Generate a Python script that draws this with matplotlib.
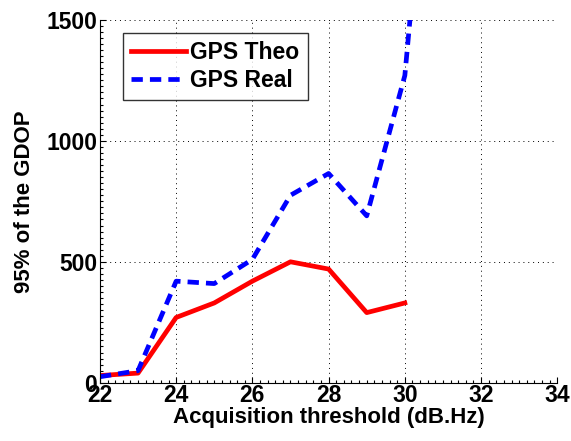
import matplotlib
matplotlib.use("Agg")
import matplotlib.pyplot as plt
from matplotlib.ticker import MultipleLocator

threshold = [22, 23, 24, 25, 26, 27, 28, 29, 30]
gps_theo = [30, 40, 270, 330, 420, 500, 470, 290, 330]
threshold_real = [22, 23, 24, 25, 26, 27, 28, 29, 30, 31]
gps_real = [25, 50, 420, 410, 510, 775, 865, 690, 1270, 2980]

plt.rcParams['font.family'] = ['Liberation Sans', 'DejaVu Sans']
plt.rcParams['font.weight'] = 'bold'

fig = plt.figure(figsize=(5.71, 4.41), dpi=100)
ax = fig.add_axes([0.175, 0.132, 0.801, 0.823])

ax.plot(threshold, gps_theo, color='#ff0000', lw=3.4, label='GPS Theo')
ax.plot(threshold_real, gps_real, color='#0000ff', lw=3.4, ls=(0, (2.4, 1.5)),
        label='GPS Real')

ax.set_xlim(22, 34)
ax.set_ylim(0, 1500)
ax.xaxis.set_major_locator(MultipleLocator(2))
ax.yaxis.set_major_locator(MultipleLocator(500))
ax.xaxis.set_minor_locator(MultipleLocator(0.2))
ax.yaxis.set_minor_locator(MultipleLocator(25))
ax.tick_params(which='both', direction='in', labelsize=16.5, width=0.8)
ax.tick_params(which='major', length=4)
ax.tick_params(which='minor', length=2)
ax.tick_params(axis='x', pad=1)
ax.tick_params(axis='y', pad=2)
for lab in ax.get_xticklabels() + ax.get_yticklabels():
    lab.set_fontweight('bold')

ax.spines['top'].set_visible(False)
ax.spines['right'].set_visible(False)
ax.grid(True, which='major', color='black', ls=(0, (1, 4)), lw=0.7)

ax.set_xlabel('Acquisition threshold (dB.Hz)', fontsize=16, fontweight='bold', labelpad=0)
ax.set_ylabel('95% of the GDOP', fontsize=16, fontweight='bold', labelpad=8)

leg = ax.legend(loc='upper left', bbox_to_anchor=(0.05, 0.965),
                prop={'size': 16.5, 'weight': 'bold'},
                frameon=True, fancybox=False, edgecolor='black',
                handlelength=2.4, handletextpad=0.2, borderpad=0.35,
                labelspacing=0.25, borderaxespad=0)
leg.get_frame().set_linewidth(1.0)

fig.savefig('out.png', dpi=100)
